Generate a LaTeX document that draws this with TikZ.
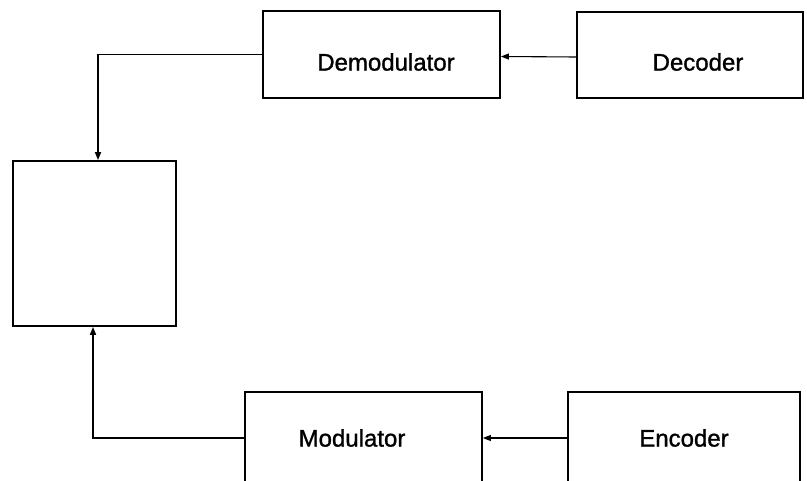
\documentclass[tikz,border=0pt]{standalone}
\usepackage{fontspec}
\setmainfont{Liberation Sans}
\newfontfamily\lblfont[FakeBold=1.2]{Liberation Sans}
\usetikzlibrary{arrows.meta}
\begin{document}
\begin{tikzpicture}[x=1pt,y=-1pt,
  blk/.style={draw,line width=1.8pt,inner sep=0pt,rectangle},
  lbl/.style={inner sep=0pt,font=\lblfont\fontsize{24}{28}\selectfont},
  conn/.style={line width=1.6pt,-{Triangle[length=8pt,width=6pt]}},
  thin conn/.style={line width=1.1pt,-{Triangle[length=8pt,width=6pt]}}]
\useasboundingbox (0,0) rectangle (807,481);
\clip (0,0) rectangle (807,481);
\fill[white] (0,0) rectangle (807,481);
\node[blk,minimum width=237pt,minimum height=87pt] (demod) at (381.5,54.5) {};
\node[blk,minimum width=226pt,minimum height=86pt] (dec) at (690,55) {};
\node[blk,minimum width=163pt,minimum height=165pt] (left) at (94.5,243.5) {};
\node[blk,minimum width=237pt,minimum height=92pt] (mod) at (363.5,438) {};
\node[blk,minimum width=232pt,minimum height=92pt] (enc) at (684,438) {};
\node[lbl] (tdemod) at (386,62) {Demodulator};
\node[lbl] (tdec) at (698,62) {Decoder};
\node[lbl] (tmod) at (352,438) {Modulator};
\node[lbl] (tenc) at (684,438) {Encoder};
\draw[thin conn] ([yshift=-2pt]dec.west) -- ([yshift=-2pt]demod.east);
\draw[thin conn] (enc.west) -- (mod.east);
\draw[conn] (demod.west) -| ([xshift=3.5pt]left.north);
\draw[conn] (mod.west) -| ([xshift=-1.5pt]left.south);
\end{tikzpicture}
\end{document}
